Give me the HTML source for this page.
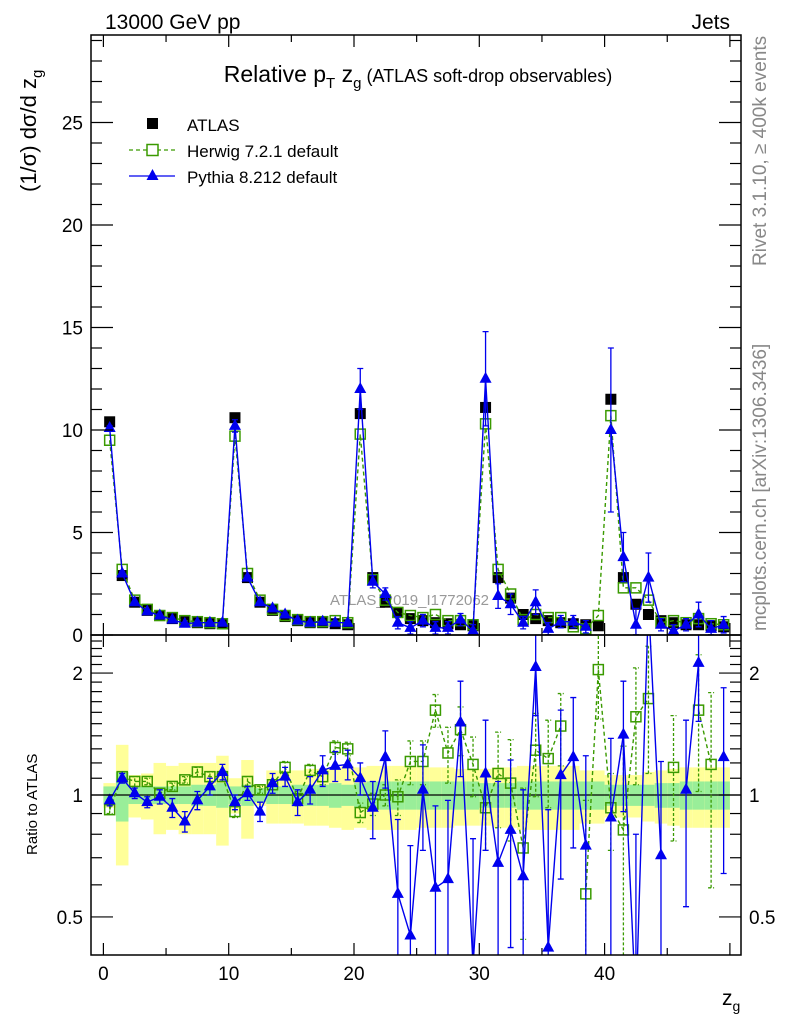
<!DOCTYPE html>
<html><head><meta charset="utf-8"><style>
html,body{margin:0;padding:0;background:#fff;overflow:hidden;width:786px;height:1024px;}
svg{display:block;font-family:"Liberation Sans",sans-serif;}
</style></head><body>
<svg id="chart" width="786" height="1024" viewBox="0 0 786 1024" overflow="hidden" xmlns="http://www.w3.org/2000/svg">
<text x="105" y="29" font-size="21">13000 GeV pp</text>
<text x="730" y="29" font-size="21" text-anchor="end">Jets</text>
<text x="418" y="82" font-size="23" text-anchor="middle">Relative p<tspan font-size="15" dy="6">T</tspan><tspan dy="-6"> z</tspan><tspan font-size="15" dy="6">g</tspan><tspan dy="-6" font-size="18"> (ATLAS soft-drop observables)</tspan></text>
<text transform="translate(36,192) rotate(-90)" font-size="22">(1/σ) dσ/d z<tspan font-size="15" dy="6">g</tspan></text>
<text transform="translate(37,855) rotate(-90)" font-size="15">Ratio to ATLAS</text>
<text x="722" y="1005" font-size="21">z<tspan font-size="14" dy="6">g</tspan></text>
<text transform="translate(766,266) rotate(-90)" font-size="19" fill="#888">Rivet 3.1.10, ≥ 400k events</text>
<text transform="translate(766,631) rotate(-90)" font-size="19" fill="#888">mcplots.cern.ch [arXiv:1306.3436]</text>
<g id="legend">
<rect x="147" y="118" width="11" height="11" fill="#000"/>
<text x="187" y="131" font-size="17">ATLAS</text>
<line x1="129" y1="150" x2="175" y2="150" stroke="#3a9a00" stroke-dasharray="4,3" stroke-width="1.3"/>
<rect x="147" y="144.5" width="11" height="11" fill="#fff" stroke="#3a9a00" stroke-width="1.5"/>
<text x="187" y="157" font-size="17">Herwig 7.2.1 default</text>
<line x1="129" y1="176" x2="175" y2="176" stroke="#0000ee" stroke-width="1.3"/>
<polygon points="152.5,169 146.5,180 158.5,180" fill="#0000ee"/>
<text x="187" y="183" font-size="17">Pythia 8.212 default</text>
</g>
<text x="330" y="605" font-size="15" fill="#999">ATLAS_2019_I1772062</text>
</svg>
<script>
const bins = [0.5,1.5,2.5,3.5,4.5,5.5,6.5,7.5,8.5,9.5,10.5,11.5,12.5,13.5,14.5,15.5,16.5,17.5,18.5,19.5,20.5,21.5,22.5,23.5,24.5,25.5,26.5,27.5,28.5,29.5,30.5,31.5,32.5,33.5,34.5,35.5,36.5,37.5,38.5,39.5,40.5,41.5,42.5,43.5,44.5,45.5,46.5,47.5,48.5,49.5];
const atlas = [10.4,2.9,1.6,1.2,0.95,0.8,0.65,0.6,0.55,0.55,10.6,2.8,1.6,1.2,0.9,0.7,0.6,0.6,0.55,0.5,10.8,2.8,1.6,1.1,0.8,0.7,0.6,0.55,0.5,0.45,11.1,2.8,1.8,1.0,0.8,0.7,0.6,0.55,0.5,0.45,11.5,2.8,1.5,1.0,0.7,0.6,0.5,0.5,0.45,0.4];
const herwig = [9.5,3.2,1.7,1.25,0.95,0.85,0.7,0.65,0.6,0.55,9.7,3.0,1.7,1.25,0.95,0.75,0.65,0.65,0.7,0.6,9.8,2.7,1.7,1.1,0.95,0.85,1.0,0.7,0.7,0.5,10.3,3.2,2.0,0.75,1.0,0.85,0.85,0.4,0.3,0.95,10.7,2.3,2.3,1.7,0.6,0.7,0.6,0.8,0.55,0.5];
const pythia = [10.1,3.0,1.6,1.15,0.95,0.75,0.55,0.6,0.6,0.6,10.2,2.8,1.6,1.3,1.0,0.7,0.6,0.65,0.6,0.6,12.0,2.6,2.0,0.6,0.35,0.7,0.35,0.35,0.75,0.2,12.5,1.9,1.5,0.6,1.6,0.3,0.65,0.65,0.4,null,10.0,3.8,0.5,2.8,0.5,0.2,0.5,1.0,0.3,0.5];
const pythiaErr = [0.1,0.1,0.05,0.05,0.05,0.05,0.05,0.05,0.05,0.05,0.3,0.1,0.05,0.05,0.05,0.05,0.05,0.05,0.05,0.05,1.0,0.3,0.3,0.3,0.3,0.3,0.3,0.3,0.3,0.3,2.3,0.6,0.5,0.3,0.6,0.3,0.3,0.3,0.3,0,4.0,1.2,0.8,1.2,0.3,0.3,0.3,0.6,0.4,0.4];
const herwigRatio = [0.92,1.11,1.08,1.08,1.01,1.05,1.09,1.14,1.11,1.11,0.91,1.08,1.03,1.06,1.17,0.98,1.15,1.11,1.31,1.30,0.905,0.95,1.0,0.99,1.21,1.21,1.62,1.27,1.45,1.19,0.93,1.13,1.07,0.74,1.29,1.23,1.48,null,0.57,2.04,0.93,0.82,1.56,1.73,null,1.17,null,1.62,1.19,null];
const herwigRatioErr = [0.02,0.03,0.03,0.02,0.03,0.02,0.02,0.03,0.03,0.03,0.03,0.03,0.02,0.03,0.04,0.04,0.04,0.05,0.05,0.05,0.05,0.06,0.06,0.1,0.15,0.15,0.15,0.2,0.2,0.2,0.2,0.3,0.3,0.3,0.3,0.3,0.3,0,0.4,0.5,0.2,0.5,0.5,0.6,0,0.4,0,0.6,0.6,0];
const pythiaRatio = [0.97,1.10,1.01,0.96,0.99,0.93,0.86,0.97,1.05,1.14,0.96,1.01,0.91,1.07,1.11,0.96,1.03,1.15,1.18,1.19,1.10,0.93,1.24,0.57,0.45,1.03,0.59,0.62,1.51,0.38,1.13,0.68,0.82,0.63,2.07,0.42,1.12,1.24,0.75,null,0.88,1.41,0.3,3.0,0.71,null,1.03,2.12,null,1.24];
const pythiaRatioErr = [0.03,0.03,0.03,0.03,0.04,0.05,0.05,0.05,0.05,0.05,0.04,0.04,0.05,0.06,0.06,0.07,0.08,0.1,0.1,0.1,0.1,0.15,0.2,0.3,0.3,0.3,0.35,0.35,0.4,0.4,0.4,0.4,0.4,0.4,0.5,0.5,0.5,0.5,0.5,0,0.5,0.5,0.5,0.5,0.5,0,0.5,0.6,0,0.6];
const greenBand = [0.05,0.14,0.05,0.05,0.05,0.05,0.05,0.06,0.06,0.07,0.05,0.06,0.04,0.05,0.05,0.06,0.06,0.06,0.07,0.06,0.07,0.08,0.08,0.08,0.08,0.08,0.08,0.08,0.08,0.08,0.07,0.07,0.07,0.08,0.08,0.08,0.08,0.08,0.08,0.08,0.06,0.06,0.06,0.06,0.07,0.07,0.08,0.08,0.08,0.08];
const yellowBand = [0.07,0.33,0.12,0.13,0.2,0.18,0.2,0.2,0.2,0.25,0.1,0.22,0.06,0.15,0.15,0.15,0.16,0.16,0.17,0.18,0.17,0.18,0.18,0.18,0.18,0.17,0.17,0.17,0.16,0.16,0.16,0.17,0.17,0.18,0.18,0.18,0.18,0.18,0.15,0.15,0.12,0.12,0.12,0.14,0.15,0.16,0.17,0.17,0.17,0.17];
const mainTicks = [0,5,10,15,20,25];
const ratioTicks = [0.5,1,2];
const xTicks = [0,10,20,30,40];

const NS='http://www.w3.org/2000/svg';
const svg=document.getElementById('chart');
const L=91,R=741,T=35,MB=635,RB=955;
const xs=v=>103.4+12.53*v;
const ys=v=>MB-20.5*v;
const yr=v=>795-405*Math.log10(v);
function mk(tag,attrs,parent){const e=document.createElementNS(NS,tag);for(const k in attrs)e.setAttribute(k,attrs[k]);(parent||svg).appendChild(e);return e;}

const defs=mk('defs',{});
const c1=mk('clipPath',{id:'cm'},defs);mk('rect',{x:L,y:T,width:R-L,height:MB-T},c1);
const c2=mk('clipPath',{id:'cr'},defs);mk('rect',{x:L,y:MB,width:R-L,height:RB-MB},c2);

const gMain=mk('g',{'clip-path':'url(#cm)'});


const gRat=mk('g',{'clip-path':'url(#cr)'});



bins.forEach((b,i)=>{
  const x0=xs(b-0.5),w=xs(b+0.5)-x0;
  const y1=mk('rect',{x:x0,y:yr(1+yellowBand[i]),width:w,height:yr(1-yellowBand[i])-yr(1+yellowBand[i]),fill:'#ffff99'},gRat);
  
  
  const g1=mk('rect',{x:x0,y:yr(1+greenBand[i]),width:w,height:yr(1-greenBand[i])-yr(1+greenBand[i]),fill:'#99ee99'},gRat);
  
  
});
const one=mk('line',{x1:L,x2:R,y1:yr(1),y2:yr(1),stroke:'#000','stroke-width':1.3},gRat);



function series(g,vals,errs,ymap,color,dash,marker,name){
  let d='';let pen=false;
  vals.forEach((v,i)=>{if(v===null){pen=false;return;}d+=(pen?'L':'M')+xs(bins[i])+','+ymap(v)+' ';pen=true;});
  const p=mk('path',{d:d,fill:'none',stroke:color,'stroke-width':1.4},g);
  if(dash)p.setAttribute('stroke-dasharray',dash);
  
  
  vals.forEach((v,i)=>{
    if(v===null)return;
    const x=xs(bins[i]),y=ymap(v);
    if(errs&&errs[i]>0){
      const lo=Math.max(v-errs[i],0.01),hi=v+errs[i];
      const e=mk('path',{d:`M${x},${ymap(lo)}L${x},${ymap(hi)}M${x-3},${ymap(lo)}L${x+3},${ymap(lo)}M${x-3},${ymap(hi)}L${x+3},${ymap(hi)}`,stroke:color,'stroke-width':1.3,fill:'none'},g);
      if(dash)e.setAttribute('stroke-dasharray','3,2');
      
      
    }
    let m;
    if(marker==='osq')m=mk('rect',{x:x-5,y:y-5,width:10,height:10,fill:'none',stroke:color,'stroke-width':1.5},g);
    else m=mk('polygon',{points:`${x},${y-7} ${x-6},${y+4} ${x+6},${y+4}`,fill:color},g);
    
    
  });
}
atlas.forEach((v,i)=>{const x=xs(bins[i]),y=ys(v);const m=mk('rect',{x:x-5.5,y:y-5.5,width:11,height:11,fill:'#000'},gMain);
  
  });
series(gMain,herwig,null,ys,'#3a9a00','4,3','osq','herwig');
series(gMain,pythia,pythiaErr,ys,'#0000ee',null,'tri','pythia');
series(gRat,herwigRatio,herwigRatioErr,yr,'#3a9a00','4,3','osq','herwig-ratio');
series(gRat,pythiaRatio,pythiaRatioErr,yr,'#0000ee',null,'tri','pythia-ratio');

const f1=mk('rect',{x:L,y:T,width:R-L,height:MB-T,fill:'none',stroke:'#000','stroke-width':1.5});


const f2=mk('rect',{x:L,y:MB,width:R-L,height:RB-MB,fill:'none',stroke:'#000','stroke-width':1.5});



const ax=mk('g',{stroke:'#000','stroke-width':1.2});


for(let v=0;v<=29;v++){const y=ys(v);const len=(v%5===0)?22:11;
  mk('line',{x1:L,x2:L+len,y1:y,y2:y},ax);mk('line',{x1:R,x2:R-len,y1:y,y2:y},ax);}
mainTicks.forEach(v=>{const t=mk('text',{x:L-8,y:ys(v)+7,'font-size':19,'text-anchor':'end'});t.textContent=v;
  
  });
[0.5,0.6,0.7,0.8,0.9,1,1.1,1.2,1.3,1.4,1.5,1.6,1.7,1.8,1.9,2,2.1,2.2,2.3,2.4].forEach(v=>{
  const y=yr(v);const len=(v===0.5||v===1||v===2)?22:11;
  mk('line',{x1:L,x2:L+len,y1:y,y2:y},ax);mk('line',{x1:R,x2:R-len,y1:y,y2:y},ax);});
ratioTicks.forEach(v=>{
  const t=mk('text',{x:L-8,y:yr(v)+7,'font-size':19,'text-anchor':'end'});t.textContent=v;
  
  
  const t2=mk('text',{x:R+8,y:yr(v)+7,'font-size':19});t2.textContent=v;
  
  });
for(let v=0;v<=50;v+=5){const x=xs(v);const len=(v%10===0)?12:7;
  [T,MB,RB].forEach(yb=>{mk('line',{x1:x,x2:x,y1:yb,y2:yb+(yb===T?len:-len)},ax);});
  mk('line',{x1:x,x2:x,y1:MB,y2:MB+len},ax);}
xTicks.forEach(v=>{const t=mk('text',{x:xs(v),y:980,'font-size':19,'text-anchor':'middle'});t.textContent=v;
  
  });
</script>
</body></html>
